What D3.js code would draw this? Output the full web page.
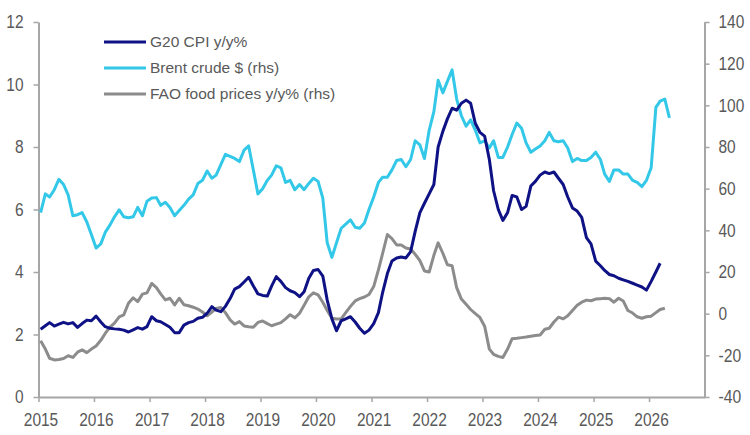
<!DOCTYPE html>
<html>
<head>
<meta charset="utf-8">
<script src="https://cdn.jsdelivr.net/npm/d3@7"></script>
<style>
    body { margin: 0; background: #ffffff; }
    svg { display: block; }
    .tick text { font-family: "Liberation Sans", Arial, sans-serif; fill: #595959; }
    .legend text { font-family: "Liberation Sans", Arial, sans-serif; fill: #595959; }
</style>
</head>
<body>
<script>
// monthly data, Jan 2015 onwards
var startYear = 2015;

var cpi = [
    2.17, 2.28, 2.38, 2.27, 2.33, 2.39, 2.34, 2.38, 2.23, 2.35, 2.46, 2.44,
    2.59, 2.40, 2.25, 2.20, 2.18, 2.17, 2.14, 2.08, 2.15, 2.22, 2.17, 2.25,
    2.57, 2.44, 2.41, 2.32, 2.23, 2.06, 2.06, 2.30, 2.38, 2.42, 2.52, 2.55,
    2.68, 2.89, 2.78, 2.73, 2.90, 3.15, 3.45, 3.53, 3.68, 3.83, 3.55, 3.30,
    3.25, 3.23, 3.55, 3.85, 3.70, 3.50, 3.40, 3.34, 3.21, 3.37, 3.80, 4.05,
    4.08, 3.87, 3.10, 2.50, 2.12, 2.44, 2.50, 2.57, 2.40, 2.20, 2.04, 2.14,
    2.35, 2.70, 3.35, 3.95, 4.35, 4.45, 4.48, 4.45, 4.65, 5.30, 5.90, 6.20,
    6.50, 6.80, 8.00, 8.50, 8.90, 9.24, 9.18, 9.40, 9.50, 9.40, 8.75, 8.47,
    8.35, 7.60, 6.60, 6.00, 5.65, 5.90, 6.45, 6.40, 6.00, 6.10, 6.75, 6.90,
    7.10, 7.20, 7.15, 7.20, 7.00, 6.80, 6.40, 6.05, 5.95, 5.75, 5.10, 4.90,
    4.35, 4.20, 4.05, 3.92, 3.88, 3.80, 3.75, 3.70, 3.64, 3.58, 3.52, 3.42,
    3.70, 4.00, 4.28
];

var brent = [
    48.5, 57.5, 56, 59.5, 64.5, 62, 57, 47, 47.5, 48.5, 44, 38,
    31.5, 33.5, 39, 42.5, 46.5, 49.8, 46.5, 46, 46.5, 51, 47, 54,
    55.5, 55.7, 52, 53.5, 51, 47, 49.5, 52, 55, 57, 62.5, 64,
    68.5, 65, 66.5, 71.5, 76.5, 75.5, 74.5, 73, 78.5, 80.5, 69, 57.5,
    60, 64, 66.5, 71, 70, 63, 64, 59.5, 62, 59.5, 62.5, 65,
    63.5, 55.5, 34, 27, 34, 41, 43, 45, 41.5, 41, 43.5, 50,
    56, 63, 65.5, 65.5, 69, 73.5, 74, 70.5, 74, 83, 81, 74.5,
    88, 97, 112, 106, 111.5, 117, 103, 95, 90, 93, 88, 82,
    83, 79.5, 83, 75, 75, 80, 86, 91.5, 89, 82, 77.5, 79,
    80.5, 83, 87, 83, 82.5, 83, 79.5, 73, 74.5, 73.5, 73.5, 75,
    77.5, 74, 67, 63.5, 69, 69, 67, 67, 64, 63, 61, 64,
    70, 99, 102, 103, 94
];

var fao = [
    -13, -17, -21.4, -22.2, -22, -21.5, -20.2, -21, -18.5, -17.4, -18.7, -17,
    -15.5, -12.8, -9.5, -6.5, -4.5, -1.5, -0.6, 5, 7.6, 5.8, 9.4, 10,
    14.5, 12.5, 9.5, 6.6, 7.4, 4.2, 7.4, 4.3, 3.8, 3.1, 2.2, 0.8,
    -1, 0.8, 2.5, 3, 0.5, -3, -5, -3.8, -5.9, -6.3, -6.5, -4.2,
    -3.5, -4.8, -5.8, -5, -4.3, -2.5, -0.5, -2, 0.2, 4, 8.1, 10,
    9, 5.5, 1.5, -2.2, -2.6, -2.5, 0.5, 3.5, 6.1, 7.2, 8, 9.2,
    13, 21, 29, 38, 36, 33, 33, 31.5, 31, 28.5, 25.5, 20.5,
    20, 28, 34, 29, 23.5, 23, 12.5, 7, 4.5, 2, 0, -1.8,
    -6, -17, -19.5, -20.5, -21, -17, -12, -11.8, -11.5, -11.2, -10.8, -10.5,
    -10.2, -7.5, -7, -4, -1.7, -2.5, -1, 1.5, 4, 5.5, 6.5, 6.2,
    7, 7.2, 7.4, 7.2, 5.5, 7.4, 6.1, 1.5, 0.3, -1.5, -2.2, -1.5,
    -1.2, 0.5, 2, 2.6
];

var seriesNames = ["G20 CPI y/y%", "Brent crude $ (rhs)", "FAO food prices y/y% (rhs)"];
var leftTicks = [0, 2, 4, 6, 8, 10, 12];
var rightTicks = [-40, -20, 0, 20, 40, 60, 80, 100, 120, 140];
var yearLabels = ["2015", "2016", "2017", "2018", "2019", "2020", "2021", "2022", "2023", "2024", "2025", "2026"];

function init()
{
    var w = 750;
    var h = 435;

    var colors = ["#0f1284", "#33c8e8", "#8c8c8c"];
    var axisColor = "#a6a6a6";

    var svg = d3.select("body")
                .append("svg")
                .attr("width", w)
                .attr("height", h);

    var x = d3.scaleTime()
              .domain([new Date(startYear, 0, 1), new Date(startYear + yearLabels.length, 0, 1)])
              .range([38.5, 704.5]);

    var yL = d3.scaleLinear().domain([0, 12]).range([397, 22]);
    var yR = d3.scaleLinear().domain([-40, 140]).range([397, 22]);

    function toPoints(arr) {
        return arr.map(function(v, i) {
            return { date: new Date(startYear, i, 15), value: v };
        });
    }

    // squeeze the tick labels to look like a narrow font
    function narrow(sel) {
        sel.style("font-size", "18px")
           .attr("lengthAdjust", "spacingAndGlyphs")
           .attr("textLength", function() {
               var s = this.textContent;
               var len = 0;
               for (var i = 0; i < s.length; i++) {
                   len += (s[i] == "-" || s[i] == "\u2212") ? 5.5 : 8.6;
               }
               return len;
           });
    }

    // axes
    var leftAxis = d3.axisLeft(yL)
                     .tickValues(leftTicks)
                     .tickSize(5)
                     .tickSizeOuter(0)
                     .tickPadding(10);
    var gl = svg.append("g")
       .attr("transform", "translate(38.5,0)")
       .call(leftAxis);

    var rightAxis = d3.axisRight(yR)
                      .tickValues(rightTicks)
                      .tickSize(5)
                      .tickSizeOuter(0)
                      .tickPadding(9)
                      .tickFormat(function(d) { return String(d); });
    var gr = svg.append("g")
       .attr("transform", "translate(704.5,0)")
       .call(rightAxis);

    var yearDates = yearLabels.map(function(d) { return new Date(+d, 0, 1); });
    var bottomAxis = d3.axisBottom(x)
                       .tickValues(yearDates)
                       .tickSize(5)
                       .tickSizeOuter(0)
                       .tickPadding(11)
                       .tickFormat(d3.timeFormat("%Y"));
    var gb = svg.append("g")
       .attr("transform", "translate(0,397)")
       .call(bottomAxis);

    [gl, gr, gb].forEach(function(g) {
        g.selectAll("path.domain").attr("stroke", axisColor).attr("stroke-width", 2);
        g.selectAll(".tick line").attr("stroke", axisColor).attr("stroke-width", 1.5);
        g.selectAll(".tick text").call(narrow);
    });
    gb.selectAll(".tick text").attr("dx", 2);

    // lines (draw order: FAO, Brent, CPI on top)
    var lineL = d3.line()
                  .x(function(d) { return x(d.date); })
                  .y(function(d) { return yL(d.value); });
    var lineR = d3.line()
                  .x(function(d) { return x(d.date); })
                  .y(function(d) { return yR(d.value); });

    var series = [
        { data: toPoints(fao), line: lineR, color: colors[2] },
        { data: toPoints(brent), line: lineR, color: colors[1] },
        { data: toPoints(cpi), line: lineL, color: colors[0] }
    ];

    svg.selectAll("path.series")
       .data(series)
       .enter()
       .append("path")
       .attr("class", "series")
       .attr("d", function(d) { return d.line(d.data); })
       .attr("fill", "none")
       .attr("stroke", function(d) { return d.color; })
       .attr("stroke-width", 3)
       .attr("stroke-linejoin", "round");

    // legend
    var legend = svg.append("g").attr("class", "legend");
    var items = legend.selectAll("g")
                      .data(seriesNames)
                      .enter()
                      .append("g")
                      .attr("transform", function(d, i) { return "translate(104," + (42 + i * 26) + ")"; });
    items.append("line")
         .attr("x1", 0).attr("x2", 42)
         .attr("stroke", function(d, i) { return colors[i]; })
         .attr("stroke-width", 3);
    items.append("text")
         .attr("x", 46)
         .attr("dy", "0.35em")
         .style("font-size", "15.5px")
         .text(function(d) { return d; });
}
window.onload = init;
</script>
</body>
</html>
